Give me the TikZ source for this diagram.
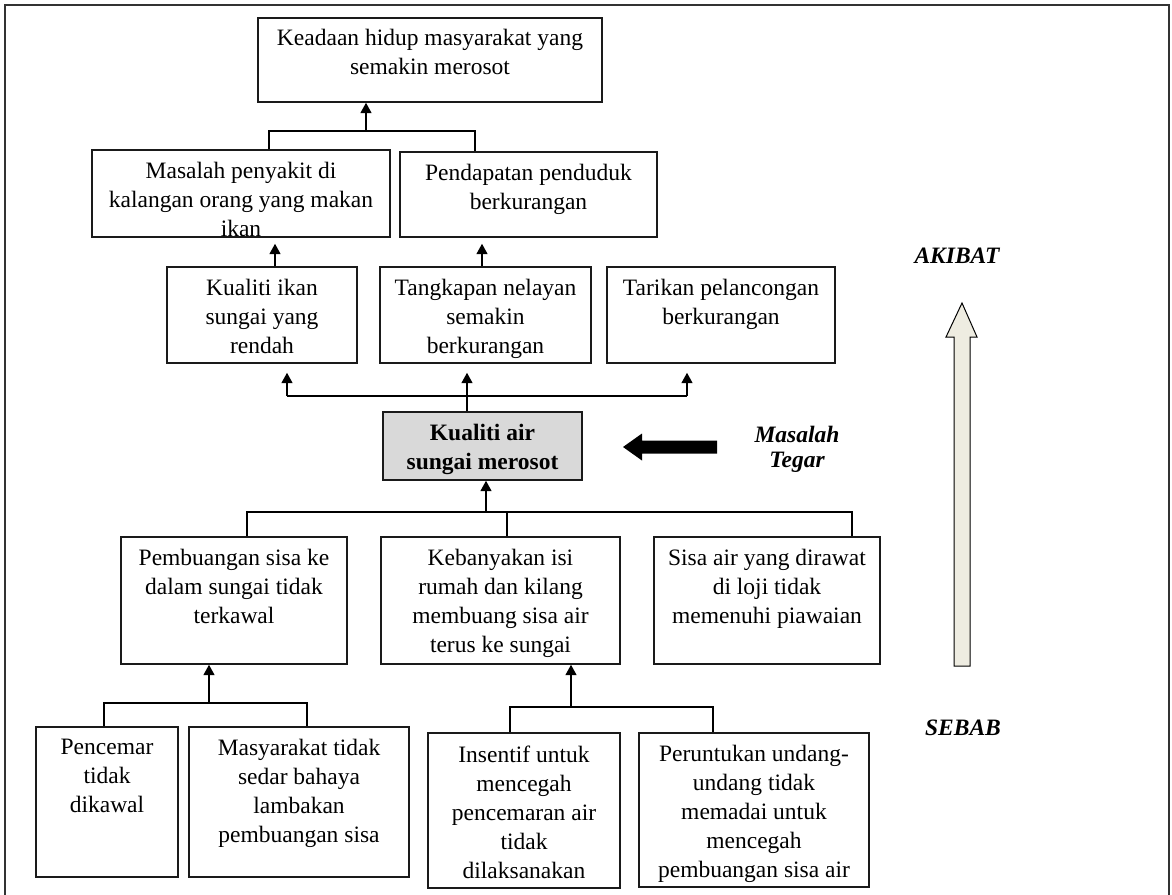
\documentclass[tikz,border=0pt]{standalone}
\usepackage{fontspec}
\setmainfont{Liberation Serif}
\usetikzlibrary{arrows.meta,calc}
\definecolor{corefill}{HTML}{D9D9D9}
\definecolor{flowfill}{HTML}{EEECE1}
\definecolor{edge}{HTML}{1A1A1A}

\tikzset{
  box/.style={draw=edge, line width=1.2pt, fill=white, inner sep=0pt, rectangle},
  txt/.style={anchor=north, inner sep=0pt, align=center,
              font=\fontsize{23.5}{29}\selectfont},
  bar/.style={line width=2.8pt, draw=black},
  arr/.style={bar, -{Triangle[width=10.5pt,length=10.5pt]}},
  sidelbl/.style={inner sep=0pt, align=center,
              font=\fontsize{23.5}{25}\selectfont\bfseries\itshape},
}

\begin{document}
\begin{tikzpicture}[x=1pt,y=-1pt]
\useasboundingbox (0,0) rectangle (1172,894);
\draw[draw=black!80, line width=1.3pt] (5,5) rectangle (1169,900);

% effects (top)
\node[box, minimum width=344pt, minimum height=84pt] (A) at (430,60) {};
\node[txt] (At) at ($(A.north)+(0,11.5)$) {Keadaan hidup masyarakat yang\\semakin merosot};

\node[box, minimum width=298pt, minimum height=87pt] (B1) at (241,193.5) {};
\node[txt] (B1t) at ($(B1.north)+(0,12.5)$) {Masalah penyakit di\\kalangan orang yang makan\\ikan};
\node[box, minimum width=257pt, minimum height=85pt] (B2) at (528.5,194.5) {};
\node[txt] (B2t) at ($(B2.north)+(0,12.5)$) {Pendapatan penduduk\\berkurangan};

\node[box, minimum width=190pt, minimum height=96pt] (C1) at (262,315) {};
\node[txt] (C1t) at ($(C1.north)+(0,12.5)$) {Kualiti ikan\\sungai yang\\rendah};
\node[box, minimum width=211pt, minimum height=96pt] (C2) at (485.5,315) {};
\node[txt] (C2t) at ($(C2.north)+(0,12.5)$) {Tangkapan nelayan\\semakin\\berkurangan};
\node[box, minimum width=228pt, minimum height=96pt] (C3) at (721,315) {};
\node[txt] (C3t) at ($(C3.north)+(0,12.5)$) {Tarikan pelancongan\\berkurangan};

% core problem
\node[box, fill=corefill, minimum width=199pt, minimum height=68pt] (D) at (482.5,446) {};
\node[txt, font=\fontsize{23.5}{29}\selectfont\bfseries] (Dt) at ($(D.north)+(0,12.5)$) {Kualiti air\\sungai merosot};

% causes
\node[box, minimum width=226pt, minimum height=127pt] (E1) at (234,600.5) {};
\node[txt] (E1t) at ($(E1.north)+(0,13)$) {Pembuangan sisa ke\\dalam sungai tidak\\terkawal};
\node[box, minimum width=239pt, minimum height=127pt] (E2) at (500.5,600.5) {};
\node[txt] (E2t) at ($(E2.north)+(0,13)$) {Kebanyakan isi\\rumah dan kilang\\membuang sisa air\\terus ke sungai};
\node[box, minimum width=226pt, minimum height=127pt] (E3) at (767,600.5) {};
\node[txt] (E3t) at ($(E3.north)+(0,13)$) {Sisa air yang dirawat\\di loji tidak\\memenuhi piawaian};

\node[box, minimum width=142pt, minimum height=150pt] (F1) at (107,802) {};
\node[txt] (F1t) at ($(F1.north)+(0,12.5)$) {Pencemar\\tidak\\dikawal};
\node[box, minimum width=220pt, minimum height=150pt] (F2) at (299,802) {};
\node[txt] (F2t) at ($(F2.north)+(0,12.5)$) {Masyarakat tidak\\sedar bahaya\\lambakan\\pembuangan sisa};

\node[box, minimum width=192pt, minimum height=155pt] (G1) at (524,810.5) {};
\node[txt] (G1t) at ($(G1.north)+(0,13)$) {Insentif untuk\\mencegah\\pencemaran air\\tidak\\dilaksanakan};
\node[box, minimum width=230pt, minimum height=154pt] (G2) at (754,810) {};
\node[txt] (G2t) at ($(G2.north)+(0,13)$) {Peruntukan undang-\\undang tidak\\memadai untuk\\mencegah\\pembuangan sisa air};

% junction points of the connector bars
\coordinate (jA)  at (366,131);
\coordinate (jAl) at (269,131);
\coordinate (jAr) at (475,131);
\coordinate (xB1) at (275,0);
\coordinate (xB2) at (482,0);
\coordinate (jC1) at (287,396);
\coordinate (jC2) at (467,396);
\coordinate (jC3) at (687,396);
\coordinate (jD)  at (486,512);
\coordinate (jE1) at (247,512);
\coordinate (jE2) at (507,512);
\coordinate (jE3) at (852,512);
\coordinate (jF)  at (209,703);
\coordinate (jF1) at (104,703);
\coordinate (jF2) at (307,703);
\coordinate (jG)  at (571,707);
\coordinate (jG1) at (510,707);
\coordinate (jG2) at (713,707);

% effects tree
\draw[bar] (B1.north -| jAl) |- (jAr) -- (B2.north -| jAr);
\draw[arr] (jA) -- (A.south -| jA);
\draw[arr] (C1.north -| xB1) -- ($(B1.south -| xB1)+(0,6)$);
\draw[arr] (C2.north -| xB2) -- ($(B2.south -| xB2)+(0,6)$);
\draw[bar] (jC1) -- (jC3);
\draw[bar] (D.north -| jC2) -- (jC2);
\draw[arr] (jC1) -- ($(C1.south -| jC1)+(0,9)$);
\draw[arr] (jC2) -- ($(C2.south -| jC2)+(0,9)$);
\draw[arr] (jC3) -- ($(C3.south -| jC3)+(0,9)$);

% causes tree
\draw[bar] (E1.north -| jE1) |- (jE3) -- (E3.north -| jE3);
\draw[bar] (E2.north -| jE2) -- (jE2);
\draw[arr] (jD) -- (D.south -| jD);
\draw[bar] (F1.north -| jF1) |- (jF2) -- (F2.north -| jF2);
\draw[arr] (jF) -- (E1.south -| jF);
\draw[bar] (G1.north -| jG1) |- (jG2) -- (G2.north -| jG2);
\draw[arr] (jG) -- (E2.south -| jG);

% pointer to the core problem
\fill[black] (717,440.5) -- (642,440.5) -- (642,433.5) -- (623,447)
  -- (642,460.5) -- (642,453.5) -- (717,453.5) -- cycle;
\node[sidelbl] (tegar) at (797,449) {Masalah\\Tegar};

% cause-to-effect direction
\draw[fill=flowfill, draw=black, line width=1pt]
  (954,666) -- (954,337) -- (946,337) -- (962,303) -- (977,337)
  -- (970,337) -- (970,666) -- cycle;
\node[sidelbl] (akibat) at (957,256) {AKIBAT};
\node[sidelbl] (sebab) at (963,728) {SEBAB};
\end{tikzpicture}
\end{document}
